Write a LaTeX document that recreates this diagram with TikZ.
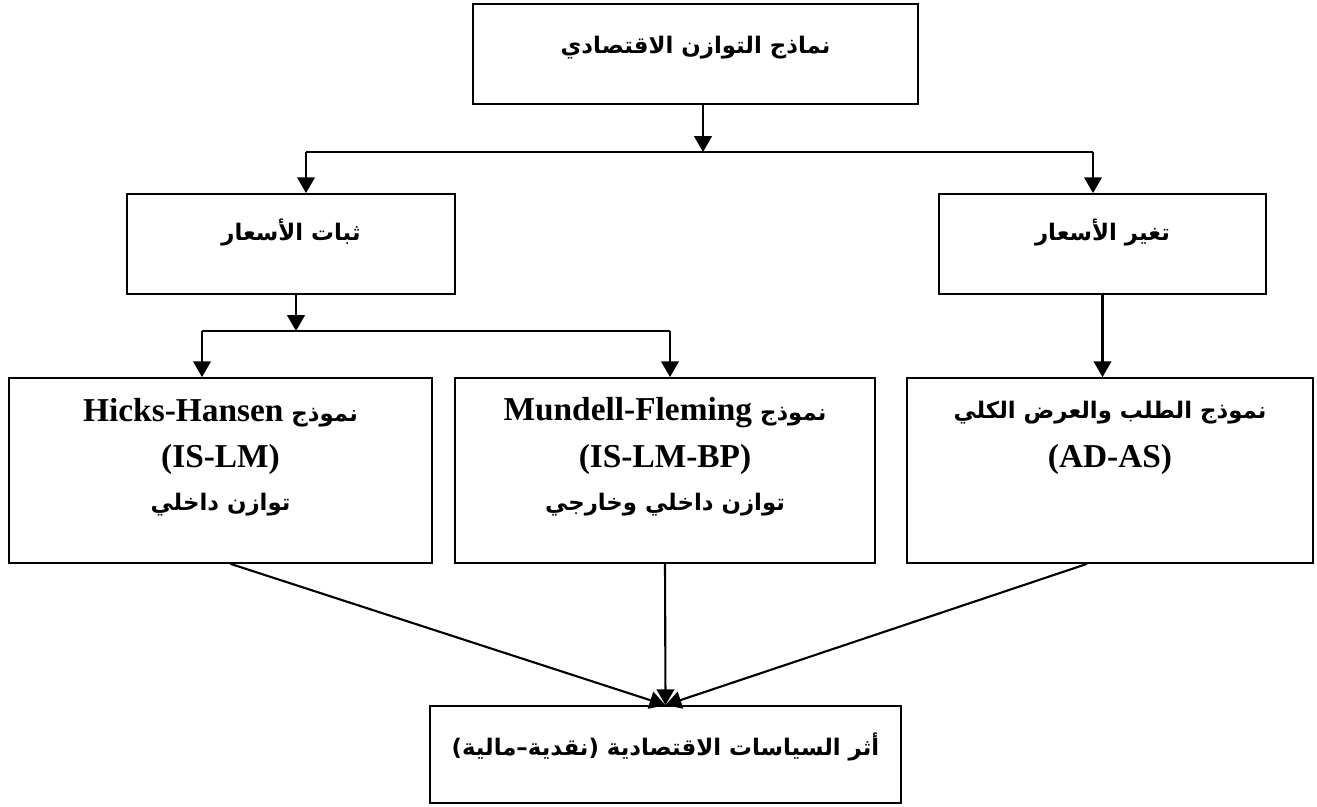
\documentclass[tikz,border=0pt]{standalone}
\usepackage{fontspec}
\setmainfont{Liberation Serif}
\newfontfamily\arabicfont[Script=Arabic]{DejaVu Sans}
\TeXXeTstate=1
\usepackage{tikz}
\usetikzlibrary{arrows.meta}
\tikzstyle{blk}=[shape=rectangle, draw, line width=1pt, inner sep=0pt]
\tikzstyle{txt}=[font=\bfseries\fontsize{13}{15}\selectfont, align=center, inner sep=0pt]
\tikzstyle{arr}=[line width=1.2pt, -{Triangle[length=9pt,width=10pt]}]
\newcommand{\artxt}[1]{{\arabicfont\bfseries\beginR #1\endR}}
\newcommand{\lattxt}[1]{{\rmfamily\bfseries\fontsize{19}{21}\selectfont #1}}

\begin{document}
\begin{tikzpicture}[x=0.02cm,y=-0.02cm]
\useasboundingbox (0,0) rectangle (1317,807);

\node (top) [blk, minimum width=8.9cm, minimum height=2cm] at (695.5,54) {};
\node (lft) [blk, minimum width=6.56cm, minimum height=2cm] at (291,244) {};
\node (rgt) [blk, minimum width=6.54cm, minimum height=2cm] at (1102.5,244) {};
\node (hh) [blk, minimum width=8.46cm, minimum height=3.7cm] at (220.5,470.5) {};
\node (mf) [blk, minimum width=8.4cm, minimum height=3.7cm] at (665,470.5) {};
\node (ad) [blk, minimum width=8.12cm, minimum height=3.7cm] at (1110,470.5) {};
\node (pol) [blk, minimum width=9.42cm, minimum height=1.94cm] at (665.5,754.5) {};

% texts
\node (top-t) [txt] at (695.5,48) {\artxt{نماذج التوازن الاقتصادي}};
\node (lft-t) [txt] at (291,233) {\artxt{ثبات الأسعار}};
\node (rgt-t) [txt] at (1102.5,233) {\artxt{تغير الأسعار}};
\node (hh-t1) [txt] at (220.5,413) {\artxt{نموذج \beginL\lattxt{Hicks-Hansen}\endL}};
\node (hh-t2) [txt] at (220.5,459) {\lattxt{(IS-LM)}};
\node (hh-t3) [txt] at (220.5,505) {\artxt{توازن داخلي}};
\node (mf-t1) [txt] at (665,413) {\artxt{نموذج \beginL\lattxt{Mundell-Fleming}\endL}};
\node (mf-t2) [txt] at (665,459) {\lattxt{(IS-LM-BP)}};
\node (mf-t3) [txt] at (665,505) {\artxt{توازن داخلي وخارجي}};
\node (ad-t1) [txt] at (1110,413) {\artxt{نموذج الطلب والعرض الكلي}};
\node (ad-t2) [txt] at (1110,459) {\lattxt{(AD-AS)}};
\node (pol-t) [txt] at (665.5,747) {\artxt{أثر السياسات الاقتصادية (نقدية–مالية)}};

% first split
\coordinate (busL) at (306,152);
\coordinate (busR) at (1093,152);
\draw[arr] ([xshift=0.15cm]top.south) -- ([xshift=0.15cm]top.south |- busL);
\draw[line width=1.2pt] (busL) -- (busR);
\draw[arr] (busL) -- (busL |- lft.north);
\draw[arr] (busR) -- (busR |- rgt.north);

% second split
\coordinate (subL) at (202,331);
\coordinate (subR) at (670,331);
\draw[arr] ([xshift=0.1cm]lft.south) -- ([xshift=0.1cm]lft.south |- subL);
\draw[line width=1.2pt] (subL) -- (subR);
\draw[arr] (subL) -- (subL |- hh.north);
\draw[arr] (subR) -- (subR |- mf.north);
\draw[arr] (rgt.south) -- (rgt.south |- ad.north);

%towards the policy box
\draw[arr] ([xshift=0.2cm]hh.south) -- (pol.north);
\draw[arr] (mf.south) -- (pol.north);
\draw[arr] ([xshift=-0.46cm]ad.south) -- (pol.north);

\end{tikzpicture}
\end{document}
